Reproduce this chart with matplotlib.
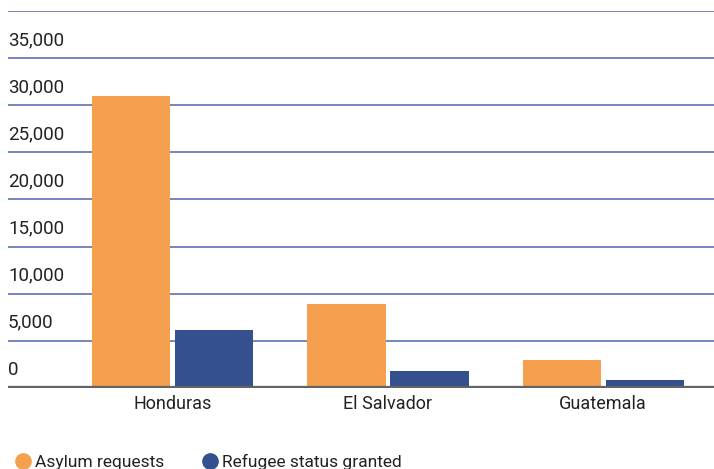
import matplotlib
matplotlib.use('Agg')
import matplotlib.pyplot as plt
import matplotlib.transforms as mtransforms
from matplotlib.lines import Line2D
import numpy as np

plt.rcParams['font.family'] = ['Roboto', 'DejaVu Sans']

countries = ['Honduras', 'El Salvador', 'Guatemala']
asylum_requests = [31000, 8900, 2950]
refugee_granted = [6200, 1800, 800]
y_ticks = [0, 5000, 10000, 15000, 20000, 25000, 30000, 35000, 40000]
series_names = ['Asylum requests', 'Refugee status granted']

ORANGE = '#F4A04F'
BLUE = '#34508F'
GRID = '#4F67AA'
BASE = '#646464'

W, H = 714, 469
fig = plt.figure(figsize=(W / 100, H / 100), dpi=100)
ax = fig.add_axes([8 / W, 1 - 388 / H, (W - 8) / W, (388 - 10.7) / H])

x = np.arange(len(countries))
bw = 0.363
off = 0.193
ax.bar(x - off, asylum_requests, width=bw, color=ORANGE, zorder=3)
ax.bar(x + off, refugee_granted, width=bw, color=BLUE, zorder=3)

ax.set_xlim(-0.767, 2.516)
ax.set_ylim(0, 40000)

for v in y_ticks[1:]:
    ax.axhline(v, color=GRID, lw=1.1, zorder=1)
ax.axhline(0, color=BASE, lw=3.8, zorder=4)

# y labels sit above their gridline, left-aligned
label_tr = mtransforms.offset_copy(
    mtransforms.blended_transform_factory(ax.transAxes, ax.transData),
    fig=fig, x=0, y=9, units='dots')
for v in y_ticks[:-1]:
    ax.text(0, v, f'{v:,}', transform=label_tr,
            ha='left', va='bottom', fontsize=13.5, color='#222222')

ax.set_yticks([])
ax.set_xticks(x)
ax.set_xticklabels(countries, fontsize=13, color='#222222')
ax.tick_params(axis='x', length=0, pad=5)
for s in ax.spines.values():
    s.set_visible(False)

handles = [Line2D([], [], marker='o', ls='', color=c, markersize=11)
           for c in (ORANGE, BLUE)]
fig.legend(handles, series_names, loc='lower left', ncol=2,
           bbox_to_anchor=(-3 / W, -17 / H), frameon=False, fontsize=12.5,
           handletextpad=0.1, columnspacing=2.0, handlelength=1.2,
           labelcolor='#222222')

fig.savefig('out.png', dpi=100)
